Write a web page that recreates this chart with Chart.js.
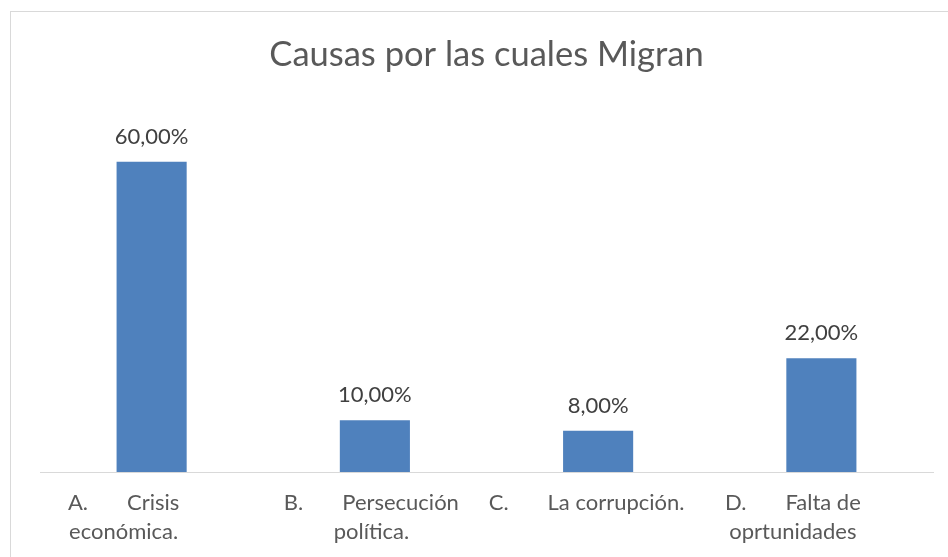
<!DOCTYPE html>
<html>
<head>
<meta charset="utf-8">
<script src="https://cdn.jsdelivr.net/npm/chart.js@4.4.1/dist/chart.umd.min.js"></script>
<style>
  html, body { margin: 0; padding: 0; background: #fff; }
  #wrap { position: relative; width: 948px; height: 557px; overflow: hidden; }
  #frame { position: absolute; left: 10px; top: 11px; width: 1000px; height: 600px; border: 1px solid #d9d9d9; box-sizing: border-box; }
  canvas { position: absolute; left: 0; top: 0; }
</style>
</head>
<body>
<div id="wrap">
  <div id="frame"></div>
  <canvas id="c" width="948" height="557"></canvas>
</div>
<script>
const chartTitle = "Causas por las cuales Migran";
const categoryPrefixes = ["A.", "B.", "C.", "D."];
const categoryLine1 = ["Crisis", "Persecución", "La corrupción.", "Falta de"];
const categoryLine2 = ["económica.", "política.", "", "oprtunidades"];
const categories = categoryPrefixes.map((p, i) => (p + " " + categoryLine1[i] + " " + categoryLine2[i]).trim());
const values = [60, 10, 8, 22];
const valueLabels = ["60,00%", "10,00%", "8,00%", "22,00%"];

const FONT = "Lato, 'Open Sans', sans-serif";

const valueLabelPlugin = {
  id: 'valueLabels',
  afterDatasetsDraw(chart) {
    const ctx = chart.ctx;
    const meta = chart.getDatasetMeta(0);
    ctx.save();
    ctx.font = "22px " + FONT;
    ctx.fillStyle = "#404040";
    ctx.textAlign = "center";
    ctx.textBaseline = "middle";
    meta.data.forEach((bar, i) => {
      ctx.fillText(valueLabels[i], bar.x, bar.y - 25);
    });
    ctx.restore();
  }
};

const categoryLabelPlugin = {
  id: 'categoryLabels',
  afterDraw(chart) {
    const ctx = chart.ctx;
    const xs = chart.scales.x;
    const base = chart.chartArea.bottom;
    const shift = [-28, -3.5, -11.5, -28.5];
    const gap = 39;
    ctx.save();
    ctx.font = "22px " + FONT;
    ctx.fillStyle = "#595959";
    ctx.textBaseline = "middle";
    categories.forEach((c, i) => {
      const cx = xs.getPixelForValue(i) + shift[i];
      const wp = ctx.measureText(categoryPrefixes[i]).width;
      const wr = ctx.measureText(categoryLine1[i]).width;
      const w = wp + gap + wr;
      const left = cx - w / 2;
      ctx.textAlign = "left";
      ctx.fillText(categoryPrefixes[i], left, base + 31);
      ctx.textAlign = "right";
      ctx.fillText(categoryLine1[i], left + w, base + 31);
      if (categoryLine2[i]) {
        ctx.textAlign = "center";
        ctx.fillText(categoryLine2[i], cx, base + 60);
      }
    });
    ctx.restore();
  }
};

new Chart(document.getElementById('c'), {
  type: 'bar',
  data: {
    labels: categories,
    datasets: [{
      data: values,
      backgroundColor: "#4f81bd",
      borderWidth: 0,
      categoryPercentage: 1,
      barPercentage: 0.314
    }]
  },
  options: {
    responsive: false,
    animation: false,
    devicePixelRatio: 1,
    layout: { padding: { top: 34.3, left: 40, right: 15, bottom: 85 } },
    plugins: {
      legend: { display: false },
      tooltip: { enabled: false },
      title: {
        display: true,
        text: chartTitle,
        color: "#595959",
        font: { family: FONT, size: 34.5, weight: 'normal', lineHeight: 1.2 },
        padding: { top: 0, bottom: 34.3 }
      }
    },
    scales: {
      x: {
        grid: { display: true, drawOnChartArea: false, drawTicks: false },
        border: { display: true, color: "#d9d9d9", width: 1 },
        ticks: { display: false }
      },
      y: {
        display: false,
        min: 0,
        max: 70
      }
    }
  },
  plugins: [valueLabelPlugin, categoryLabelPlugin]
});
</script>
</body>
</html>
